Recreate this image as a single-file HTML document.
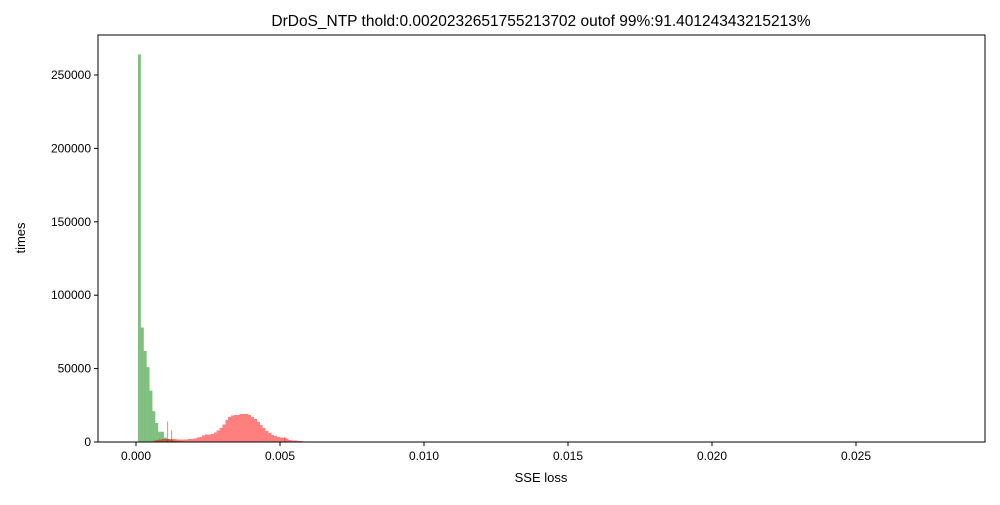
<!DOCTYPE html>
<html><head><meta charset="utf-8"><style>
body{margin:0;background:#fff;font-family:"Liberation Sans","DejaVu Sans",sans-serif}
</style></head><body>
<svg id="chart" width="1000" height="500" xmlns="http://www.w3.org/2000/svg" font-family="Liberation Sans, DejaVu Sans, sans-serif">
<rect width="1000" height="500" fill="#fff"/>
<text x="541" y="26" text-anchor="middle" font-size="15.5">DrDoS_NTP thold:0.0020232651755213702 outof 99%:91.40124343215213%</text>
<g id="bars"></g>
<g id="axes"></g>
<text x="541" y="482" text-anchor="middle" font-size="13">SSE loss</text>
<text transform="translate(25,238) rotate(-90)" text-anchor="middle" font-size="13">times</text>
</svg>
<script>
const greenStart = 0.00007;
const greenStep = 0.0001;
const greenCounts = [264000,78000,62000,51000,35000,21000,13000,7000,7000,3000,2000,1500,1000,800,600,400];
const redStart = 0.0006;
const redStep = 0.0001;
const redCounts = [1000,1500,1800,2000,2000,2000,2000,2000,1800,1800,1800,1800,2000,2200,2500,3000,3500,4500,5000,5000,5500,6500,8000,9500,12000,15000,17000,18000,18500,18500,19000,19000,19000,18500,17000,15500,13500,11500,9500,7500,6000,4800,4000,3500,3000,2800,2500,1500,1000,900,800,600,500,300,200,150,100,80,60,50];
const spikePositions = [0.00108,0.00122,0.00515];
const spikeCounts = [14000,8000,3500];
const xTicks = [0,0.005,0.01,0.015,0.02,0.025];
const xTickLabels = ["0.000","0.005","0.010","0.015","0.020","0.025"];
const yTicks = [0,50000,100000,150000,200000,250000];
const yTickLabels = ["0","50000","100000","150000","200000","250000"];

const L=98,R=985,T=35,B=442;
const xs=v=>136+v*(144/0.005);
const ys=v=>B-v*(367/250000);
const NS="http://www.w3.org/2000/svg";
const bars=document.getElementById('bars'), axes=document.getElementById('axes');
function mk(tag,attrs,parent){const e=document.createElementNS(NS,tag);for(const k in attrs)e.setAttribute(k,attrs[k]);parent.appendChild(e);return e;}
greenCounts.forEach((c,i)=>{
  const x0=xs(greenStart+i*greenStep), x1=xs(greenStart+(i+1)*greenStep);
  const r=mk('rect',{x:x0,y:ys(c),width:x1-x0,height:B-ys(c),fill:'rgba(0,128,0,0.5)'},bars);
  
  
});
redCounts.forEach((c,i)=>{
  const x0=xs(redStart+i*redStep), x1=xs(redStart+(i+1)*redStep);
  const r=mk('rect',{x:x0,y:ys(c),width:x1-x0,height:B-ys(c),fill:'rgba(255,0,0,0.5)','shape-rendering':'crispEdges'},bars);
  
  
});
spikePositions.forEach((p,i)=>{
  const x0=xs(p);
  const r=mk('rect',{x:x0,y:ys(spikeCounts[i]),width:1,height:B-ys(spikeCounts[i]),fill:'rgba(255,0,0,0.5)'},bars);
  
  
});
const frame=mk('rect',{x:L,y:T,width:R-L,height:B-T,fill:'none',stroke:'#000','stroke-width':1},axes);


xTicks.forEach((v,i)=>{
  const x=xs(v);
  mk('line',{x1:x,x2:x,y1:B,y2:B+4,stroke:'#000'},axes);
  const t=mk('text',{x:x,y:B+18,'text-anchor':'middle','font-size':'12'},axes);
  t.textContent=xTickLabels[i];
  
  
});
yTicks.forEach((v,i)=>{
  const y=ys(v);
  mk('line',{x1:L-4,x2:L,y1:y,y2:y,stroke:'#000'},axes);
  const t=mk('text',{x:L-7,y:y+4,'text-anchor':'end','font-size':'12'},axes);
  t.textContent=yTickLabels[i];
  
  
});
</script>
</body></html>
